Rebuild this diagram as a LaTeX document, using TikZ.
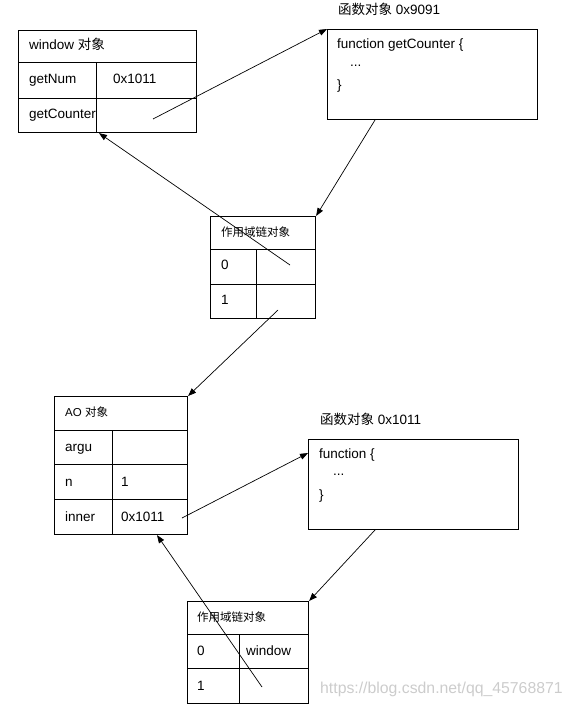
\documentclass[tikz,border=0pt]{standalone}
\usepackage{fontspec}
\setmainfont{Liberation Sans}
\newfontfamily\cjk{Noto Sans CJK SC}
\usetikzlibrary{arrows.meta,calc}
\begin{document}
\begin{tikzpicture}[x=1pt,y=-1pt,
  cell/.style={draw,line width=1.1pt,inner sep=0pt,anchor=north west},
  txt/.style={anchor=west,inner sep=0pt,font=\fontsize{13.5}{16}\selectfont,text height=9pt,text depth=2.5pt},
  smalltxt/.style={anchor=west,inner sep=0pt,font=\fontsize{11.5}{14}\selectfont,text height=8pt,text depth=2pt},
  link/.style={line width=0.7pt,-{Triangle[length=8pt,width=6pt]}}]
\useasboundingbox (0,0) rectangle (571,709);
% window object
\node[cell,minimum width=178pt,minimum height=32pt] (wt) at (18,30) {};
\node[cell,minimum width=78pt,minimum height=36pt] (w1a) at (18,62) {};
\node[cell,minimum width=100pt,minimum height=36pt] (w1b) at (96,62) {};
\node[cell,minimum width=78pt,minimum height=34pt] (w2a) at (18,98) {};
\node[cell,minimum width=100pt,minimum height=34pt] (w2b) at (96,98) {};
\node[txt] (wtt) at (29,46) {window {\cjk 对象}};
\node[txt] (w1at) at (29,80) {getNum};
\node[txt] (w1bt) at (113,80) {0x1011};
\node[txt] (w2at) at (29,115) {getCounter};
% function object 0x9091
\node[txt] (f1title) at (338,11) {{\cjk 函数对象} 0x9091};
\node[cell,minimum width=210pt,minimum height=90pt] (f1) at (327,29) {};
\node[txt] (f1l1) at (337,45) {function getCounter \{};
\node[txt] (f1l2) at (350,63) {...};
\node[txt] (f1l3) at (337,86) {\}};
% scope chain 1
\node[cell,minimum width=105pt,minimum height=33pt] (s1t) at (210,216) {};
\node[cell,minimum width=46pt,minimum height=35pt] (s1a) at (210,249) {};
\node[cell,minimum width=59pt,minimum height=35pt] (s1b) at (256,249) {};
\node[cell,minimum width=46pt,minimum height=34pt] (s1c) at (210,284) {};
\node[cell,minimum width=59pt,minimum height=34pt] (s1d) at (256,284) {};
\node[smalltxt] (s1tt) at (221,233) {\cjk 作用域链对象};
\node[txt] (s1at) at (221,266) {0};
\node[txt] (s1ct) at (221,301) {1};
% AO object
\node[cell,minimum width=133pt,minimum height=34pt] (aot) at (54,396) {};
\node[cell,minimum width=58pt,minimum height=34pt] (ao1a) at (54,430) {};
\node[cell,minimum width=75pt,minimum height=34pt] (ao1b) at (112,430) {};
\node[cell,minimum width=58pt,minimum height=35pt] (ao2a) at (54,464) {};
\node[cell,minimum width=75pt,minimum height=35pt] (ao2b) at (112,464) {};
\node[cell,minimum width=58pt,minimum height=35pt] (ao3a) at (54,499) {};
\node[cell,minimum width=75pt,minimum height=35pt] (ao3b) at (112,499) {};
\node[smalltxt] (aott) at (65,413) {AO {\cjk 对象}};
\node[txt] (ao1at) at (65,448) {argu};
\node[txt] (ao2at) at (65,483) {n};
\node[txt] (ao2bt) at (121,483) {1};
\node[txt] (ao3at) at (65,518) {inner};
\node[txt] (ao3bt) at (121,518) {0x1011};
% function object 0x1011
\node[txt] (f2title) at (320,421) {{\cjk 函数对象} 0x1011};
\node[cell,minimum width=210pt,minimum height=90pt] (f2) at (308,439) {};
\node[txt] (f2l1) at (319,455) {function \{};
\node[txt] (f2l2) at (333,472) {...};
\node[txt] (f2l3) at (319,496) {\}};
% scope chain 2
\node[cell,minimum width=121pt,minimum height=33pt] (s2t) at (187,601) {};
\node[cell,minimum width=52pt,minimum height=34pt] (s2a) at (187,634) {};
\node[cell,minimum width=69pt,minimum height=34pt] (s2b) at (239,634) {};
\node[cell,minimum width=52pt,minimum height=35pt] (s2c) at (187,668) {};
\node[cell,minimum width=69pt,minimum height=35pt] (s2d) at (239,668) {};
\node[smalltxt] (s2tt) at (197,618) {\cjk 作用域链对象};
\node[txt] (s2at) at (197,652) {0};
\node[txt] (s2bt) at (246,652) {window};
\node[txt] (s2ct) at (197,687) {1};
% watermark
\node[anchor=west,inner sep=0pt,text=black!20,font=\fontsize{15.8}{18}\selectfont] (wm) at (320,689) {https://blog.csdn.net/qq\_45768871};
% connector start points
\coordinate (p1) at (153,119);
\coordinate (p2) at (375,120);
\coordinate (p3) at (290,265);
\coordinate (p4) at (278,310);
\coordinate (p5) at (182,518);
\coordinate (p6) at (375,530);
\coordinate (p7) at (262,687);
% connectors
\draw[link] (p1) -- (f1.north west);
\draw[link] (p2) -- (s1t.north east);
\draw[link] (p3) -- ($(w2b.south west)+(3,0)$);
\draw[link] (p4) -- (aot.north east);
\draw[link] (p5) -- ($(f2.north west)+(0,14)$);
\draw[link] (p6) -- (s2t.north east);
\draw[link] (p7) -- ($(ao3b.south west)+(45,0)$);
\end{tikzpicture}
\end{document}
